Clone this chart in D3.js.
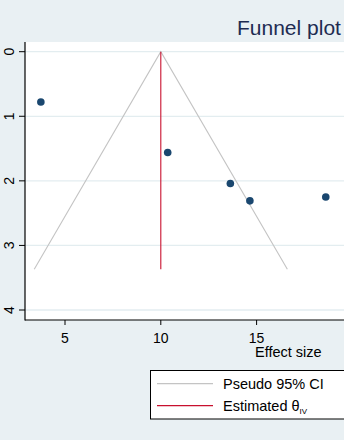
<!DOCTYPE html>
<html><head><meta charset="utf-8">
<script src="https://cdn.jsdelivr.net/npm/d3@7"></script>
<style>html,body{margin:0;padding:0;background:#e9f0f3;overflow:hidden}</style>
</head><body>
<svg id="c" width="344" height="440"></svg>
<script>
const effectSize = [3.74, 10.36, 13.63, 14.65, 18.61];
const stdErr = [0.78, 1.56, 2.04, 2.31, 2.25];
const theta = 10;
const seMax = 3.37;
const xTicks = [5, 10, 15];
const yTicks = [0, 1, 2, 3, 4];
const legendLabels = ["Pseudo 95% CI", "Estimated θ"];

const svg = d3.select("#c");
const W = 344, H = 440;
const font = "Liberation Sans, Arial, sans-serif";
const plot = {l: 25, t: 42, b: 320, r: 360};
const x = d3.scaleLinear().domain([5, 15]).range([65, 256.6]);
const y = d3.scaleLinear().domain([0, 4]).range([51.7, 310]);

svg.append("rect").attr("width", W).attr("height", H).attr("fill", "#e9f0f3");
svg.append("rect").attr("x", plot.l).attr("y", plot.t).attr("width", plot.r - plot.l).attr("height", plot.b - plot.t).attr("fill", "#ffffff");

// gridlines
svg.append("g").selectAll("line").data(yTicks).join("line")
  .attr("x1", plot.l).attr("x2", plot.r).attr("y1", d => y(d)).attr("y2", d => y(d))
  .attr("stroke", "#e3edf0").attr("stroke-width", 1.3);

// funnel
const z = 1.96;
svg.append("path")
  .attr("d", d3.line()([[x(theta - z * seMax), y(seMax)], [x(theta), y(0)], [x(theta + z * seMax), y(seMax)]]))
  .attr("fill", "none").attr("stroke", "#c4c4c4").attr("stroke-width", 1.1);
svg.append("line").attr("x1", x(theta)).attr("x2", x(theta)).attr("y1", y(0)).attr("y2", y(seMax))
  .attr("stroke", "#c8102e").attr("stroke-width", 1.1);

// points
svg.append("g").selectAll("circle").data(effectSize).join("circle")
  .attr("cx", d => x(d)).attr("cy", (d, i) => y(stdErr[i])).attr("r", 3.8).attr("fill", "#1a476f");

// axes
const ax = svg.append("g").attr("stroke", "#000");
ax.append("line").attr("x1", plot.l).attr("x2", plot.l).attr("y1", plot.t).attr("y2", plot.b + 0.5).attr("stroke-width", 1.2);
ax.append("line").attr("x1", plot.l).attr("x2", plot.r).attr("y1", plot.b).attr("y2", plot.b).attr("stroke-width", 1.2);

const yt = svg.append("g");
yTicks.forEach(t => {
  yt.append("line").attr("x1", plot.l - 6).attr("x2", plot.l).attr("y1", y(t)).attr("y2", y(t)).attr("stroke", "#000").attr("stroke-width", 1);
  yt.append("text").attr("transform", `translate(13.5,${y(t)}) rotate(-90)`)
    .attr("text-anchor", "middle").attr("font-family", font).attr("font-size", 14).attr("fill", "#000").text(t);
});
const xt = svg.append("g");
xTicks.forEach(t => {
  xt.append("line").attr("x1", x(t)).attr("x2", x(t)).attr("y1", plot.b).attr("y2", plot.b + 5).attr("stroke", "#000").attr("stroke-width", 1);
  xt.append("text").attr("x", x(t)).attr("y", 343.3).attr("text-anchor", "middle")
    .attr("font-family", font).attr("font-size", 14).attr("fill", "#000").text(t);
});
svg.append("text").attr("x", 255).attr("y", 357).attr("font-family", font).attr("font-size", 14.5).attr("fill", "#000").text("Effect size");

// title
svg.append("text").attr("x", 237).attr("y", 35).attr("font-family", font).attr("font-size", 21).attr("fill", "#1e2c52").text("Funnel plot");

// legend
const lg = svg.append("g");
lg.append("rect").attr("x", 150.5).attr("y", 370.5).attr("width", 220).attr("height", 48.5).attr("fill", "#ffffff").attr("stroke", "#000").attr("stroke-width", 1);
const legendColors = ["#c4c4c4", "#c8102e"];
const legendY = [383.7, 405.7];
legendLabels.forEach((lab, i) => {
  lg.append("line").attr("x1", 157).attr("x2", 213).attr("y1", legendY[i]).attr("y2", legendY[i]).attr("stroke", legendColors[i]).attr("stroke-width", 1.2);
  const t = lg.append("text").attr("x", 223).attr("y", legendY[i] + 5.2).attr("font-family", font).attr("font-size", 14.5).attr("fill", "#000").text(lab);
  if (i === 1) t.append("tspan").attr("font-size", 8).attr("dy", 3).text("IV");
});
</script>
</body></html>
